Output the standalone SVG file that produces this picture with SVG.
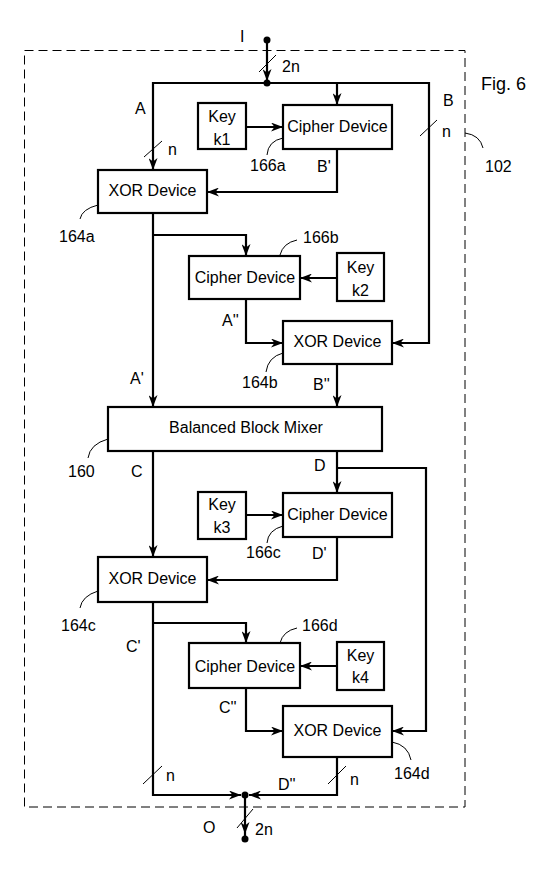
<svg xmlns="http://www.w3.org/2000/svg" width="556" height="870" viewBox="0 0 556 870">
<style>
text{font-family:"Liberation Sans",Arial,sans-serif;font-size:16px;fill:#000}
.c{text-anchor:middle}
.box{fill:#fff;stroke:#000;stroke-width:2.2}
.w{fill:none;stroke:#000;stroke-width:2.2}
.t{fill:none;stroke:#000;stroke-width:1}
</style>
<defs>
<marker id="arr" markerUnits="userSpaceOnUse" markerWidth="13" markerHeight="9" refX="12" refY="4.5" orient="auto">
<path d="M0,0 L12,4.5 L0,9 L3.5,4.5 z" fill="#000"/>
</marker>
</defs>
<rect x="24.5" y="50.5" width="440.5" height="756.5" fill="none" stroke="#000" stroke-width="1" stroke-dasharray="9,5"/>
<text x="481" y="90" style="font-size:18px">Fig. 6</text>
<text x="485" y="172">102</text>
<path class="t" d="M465,133 Q480,135 483,148"/>
<g id="connectors">
<path class="w" d="M267,40 V81" marker-end="url(#arr)"/>
<path class="w" d="M267,83 H153 V170" marker-end="url(#arr)"/>
<path class="w" d="M337,83 V105" marker-end="url(#arr)"/>
<path class="w" d="M267,83 H429 V343 H392" marker-end="url(#arr)"/>
<path class="w" d="M246,127 H283" marker-end="url(#arr)"/>
<path class="w" d="M337,149 V192 H207" marker-end="url(#arr)"/>
<path class="w" d="M153,213 V407" marker-end="url(#arr)"/>
<path class="w" d="M153,235 H246 V256" marker-end="url(#arr)"/>
<path class="w" d="M337,278 H300" marker-end="url(#arr)"/>
<path class="w" d="M246,299 V343 H283" marker-end="url(#arr)"/>
<path class="w" d="M337,364 V407" marker-end="url(#arr)"/>
<path class="w" d="M153,451 V557" marker-end="url(#arr)"/>
<path class="w" d="M337,451 V493" marker-end="url(#arr)"/>
<path class="w" d="M337,468 H426 V731 H392" marker-end="url(#arr)"/>
<path class="w" d="M246,515 H283" marker-end="url(#arr)"/>
<path class="w" d="M337,537 V580 H207" marker-end="url(#arr)"/>
<path class="w" d="M153,602 V795 H241" marker-end="url(#arr)"/>
<path class="w" d="M153,623 H246 V643" marker-end="url(#arr)"/>
<path class="w" d="M337,666 H300" marker-end="url(#arr)"/>
<path class="w" d="M246,688 V731 H283" marker-end="url(#arr)"/>
<path class="w" d="M337,757 V795 H249" marker-end="url(#arr)"/>
<path class="w" d="M245,795 V834" marker-end="url(#arr)"/>
<path class="w" d="M245,834 V839"/>
<circle cx="267" cy="40" r="3.5"/>
<circle cx="267" cy="83" r="3.5"/>
<circle cx="245" cy="795" r="3.5"/>
<circle cx="245" cy="839" r="3.5"/>
<path class="t" d="M259,72 L276,55 M144,157 L162,141 M420,136 L437,120 M143,784 L162,766 M328,784 L346,766 M237,828 L253,809"/>
</g>
<text x="240" y="42">I</text>
<text x="282" y="72">2n</text>
<text x="135" y="114">A</text>
<text x="168" y="155">n</text>
<text x="443" y="106">B</text>
<text x="442" y="137">n</text>
<text x="317" y="172">B'</text>
<text x="222" y="326">A''</text>
<text x="130" y="384">A'</text>
<text x="313" y="390">B''</text>
<text x="131" y="477">C</text>
<text x="314" y="471">D</text>
<text x="312" y="559">D'</text>
<text x="126" y="652">C'</text>
<text x="219" y="713">C''</text>
<text x="166" y="781">n</text>
<text x="350" y="785">n</text>
<text x="278" y="790">D''</text>
<text x="203" y="833">O</text>
<text x="255" y="835">2n</text>
<g id="key1"><rect class="box" x="198" y="103" width="48" height="46"/><text class="c" x="222" y="122">Key</text><text class="c" x="222" y="145">k1</text></g>
<g id="cipher166a"><rect class="box" x="283" y="105" width="109" height="44"/><text class="c" x="337.5" y="132">Cipher Device</text><path class="t" d="M283,138 Q268,141 267,155"/><text x="250" y="171">166a</text></g>
<g id="xor164a"><rect class="box" x="98" y="170" width="109" height="43"/><text class="c" x="152.5" y="196">XOR Device</text><path class="t" d="M98,205 Q82,209 80,219"/><text x="59" y="242">164a</text></g>
<g id="cipher166b"><rect class="box" x="189" y="256" width="111" height="43"/><text class="c" x="245" y="283">Cipher Device</text><path class="t" d="M297,240 Q283,243 280,255"/><text x="303" y="243">166b</text></g>
<g id="key2"><rect class="box" x="337" y="253" width="47" height="48"/><text class="c" x="360.5" y="273">Key</text><text class="c" x="360.5" y="296">k2</text></g>
<g id="xor164b"><rect class="box" x="283" y="321" width="109" height="43"/><text class="c" x="337.5" y="347">XOR Device</text><path class="t" d="M283,353 Q268,357 266,372"/><text x="242" y="388">164b</text></g>
<g id="mixer160"><rect class="box" x="108" y="407" width="274" height="44"/><text class="c" x="246" y="433">Balanced Block Mixer</text><path class="t" d="M108,439 Q90,444 88,458"/><text x="68" y="477">160</text></g>
<g id="key3"><rect class="box" x="198" y="492" width="48" height="47"/><text class="c" x="222" y="510">Key</text><text class="c" x="222" y="533">k3</text></g>
<g id="cipher166c"><rect class="box" x="283" y="493" width="109" height="44"/><text class="c" x="337.5" y="520">Cipher Device</text><path class="t" d="M283,526 Q268,530 267,543"/><text x="246" y="558">166c</text></g>
<g id="xor164c"><rect class="box" x="98" y="557" width="109" height="45"/><text class="c" x="152.5" y="584">XOR Device</text><path class="t" d="M98,591 Q82,596 80,608"/><text x="61" y="631">164c</text></g>
<g id="cipher166d"><rect class="box" x="189" y="643" width="111" height="45"/><text class="c" x="245" y="672">Cipher Device</text><path class="t" d="M297,628 Q283,631 280,643"/><text x="302" y="631">166d</text></g>
<g id="key4"><rect class="box" x="337" y="642" width="47" height="48"/><text class="c" x="360.5" y="661">Key</text><text class="c" x="360.5" y="683">k4</text></g>
<g id="xor164d"><rect class="box" x="283" y="706" width="109" height="51"/><text class="c" x="337.5" y="736">XOR Device</text><path class="t" d="M392,742 Q408,745 411,760"/><text x="394" y="779">164d</text></g>
</svg>
